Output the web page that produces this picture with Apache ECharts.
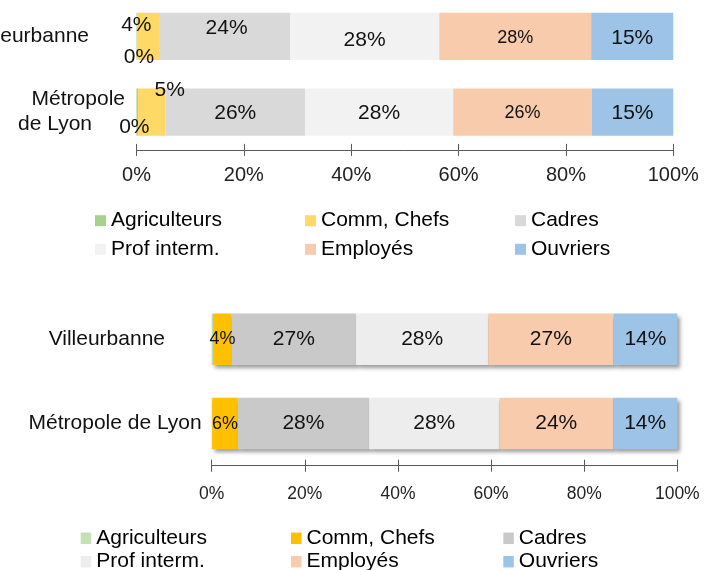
<!DOCTYPE html>
<html>
<head>
<meta charset="utf-8">
<script src="https://cdn.jsdelivr.net/npm/echarts@6/dist/echarts.min.js"></script>
<style>
  html, body { margin: 0; padding: 0; background: #fff; overflow: hidden; }
  #top, #bottom { width: 715px; height: 285px; }
</style>
</head>
<body>
<div id="top"></div>
<div id="bottom"></div>
<script>
const FONT = '"Liberation Sans", Arial, sans-serif'

const CATEGORIES = ['Villeurbanne', 'Métropole de Lyon']
const GROUPS = ['Agriculteurs', 'Comm, Chefs', 'Cadres', 'Prof interm.', 'Employés', 'Ouvriers']

// premier graphique (haut), en %
const agriTop = [0.2, 0.3]
const commTop = [4.0, 5.1]
const cadresTop = [24.4, 26.0]
const profTop = [27.8, 27.6]
const employesTop = [28.3, 25.8]
const ouvriersTop = [15.3, 15.2]

// second graphique (bas), en %
const agriBot = [0.3, 0.1]
const commBot = [4.0, 5.5]
const cadresBot = [26.7, 28.2]
const profBot = [28.4, 28.0]
const employesBot = [26.9, 24.4]
const ouvriersBot = [13.7, 13.8]

const COLORS_TOP = ['#a9d18e', '#ffd966', '#d9d9d9', '#f2f2f2', '#f8cbad', '#9dc3e6']
const COLORS_BOT = ['#c5e0b4', '#ffc000', '#c9c9c9', '#ededed', '#f8cbad', '#9dc3e6']

// étiquettes déplacées à la main dans le graphique du haut [dx, dy] par catégorie
const TOP_LABEL_OFFSET = [
  [[2, 21], [-3, 15]],
  [[-12, -11], [18, -22]],
  [[2, -8], [0, 1]],
  [[0, 4], [0, 1]],
  [[0, 2], [0, 1]],
  [[0, 2], [0, 1]],
]
const TOP_LABEL_SIZE = [21, 21, 21, 21, 18, 21]
const BOT_LABEL_SIZE = [21, 18, 21, 21, 21, 21]

const pct = (p) => Math.round(p.value) + '%'

function xAxes(fontSize, margin) {
  const base = { type: 'value', position: 'bottom', min: 0, max: 100, interval: 20, splitLine: { show: false } }
  return [
    {
      ...base,
      axisLine: { show: true, lineStyle: { color: '#595959', width: 1 } },
      axisTick: { show: true, length: 6, lineStyle: { color: '#595959' } },
      axisLabel: { formatter: '{value}%', fontSize, color: '#222', margin, fontFamily: FONT },
    },
    {
      ...base,
      axisLine: { show: false },
      axisTick: { show: true, inside: true, length: 6, lineStyle: { color: '#595959' } },
      axisLabel: { show: false },
    },
  ]
}

function legends(names, colors, lefts, top, gap, size) {
  const cols = [[0, 3], [1, 4], [2, 5]]
  return cols.map((idx, c) => ({
    orient: 'vertical',
    left: lefts[c],
    top,
    height: 80,
    padding: 0,
    itemGap: gap,
    itemWidth: size[0],
    itemHeight: size[1],
    icon: 'rect',
    selectedMode: false,
    data: idx.map((i) => ({ name: names[i], itemStyle: { color: colors[i] } })),
    textStyle: { fontSize: 21, lineHeight: size[2], color: '#000', fontFamily: FONT },
  }))
}

// ---- graphique du haut ----
const topValues = [agriTop, commTop, cadresTop, profTop, employesTop, ouvriersTop]
const topChart = echarts.init(document.getElementById('top'))
topChart.setOption({
  animation: false,
  textStyle: { fontFamily: FONT },
  grid: { left: 136.5, right: 41.7, top: -1.5, height: 151.4, outerBoundsMode: 'none', containLabel: false },
  xAxis: xAxes(20, 16),
  yAxis: {
    type: 'category',
    data: CATEGORIES,
    inverse: true,
    axisLine: { show: false },
    axisTick: { show: false },
    axisLabel: {
      margin: 11.5,
      lineHeight: 25,
      formatter: (v) => v === 'Villeurbanne' ? '{v|' + v + '}' : '{m|Métropole}\n{d|de Lyon}',
      rich: {
        v: { fontSize: 21, color: '#111', fontFamily: FONT, padding: [0, 36, 0, 0] },
        m: { fontSize: 21, color: '#111', fontFamily: FONT, lineHeight: 25 },
        d: { fontSize: 21, color: '#111', fontFamily: FONT, lineHeight: 25, padding: [0, 33, 0, 0] },
      },
    },
  },
  legend: legends(GROUPS, COLORS_TOP, [95, 305, 515], 208.7, 4.6, [11, 11, 24]),
  series: topValues.map((vals, i) => ({
    name: GROUPS[i],
    type: 'bar',
    stack: 'total',
    barWidth: 47.3,
    itemStyle: { color: COLORS_TOP[i] },
    label: { show: true, position: 'inside', formatter: pct, fontSize: TOP_LABEL_SIZE[i], color: '#111', fontFamily: FONT },
    data: vals.map((v, j) => ({ value: v, label: { offset: TOP_LABEL_OFFSET[i][j] } })),
  })),
})

// ---- graphique du bas ----
const botValues = [agriBot, commBot, cadresBot, profBot, employesBot, ouvriersBot]
const botChart = echarts.init(document.getElementById('bottom'))
botChart.setOption({
  animation: false,
  textStyle: { fontFamily: FONT },
  grid: { left: 211.7, right: 37.7, top: 12.2, height: 168.5, outerBoundsMode: 'none', containLabel: false },
  xAxis: xAxes(17.5, 19),
  yAxis: {
    type: 'category',
    data: CATEGORIES,
    inverse: true,
    axisLine: { show: false },
    axisTick: { show: false },
    axisLabel: {
      margin: 10,
      formatter: (v) => v === 'Villeurbanne' ? '{v|' + v + '}' : '{m|' + v + '}',
      rich: {
        v: { fontSize: 21, color: '#111', fontFamily: FONT, padding: [0, 36.7, 0, 0] },
        m: { fontSize: 21, color: '#111', fontFamily: FONT },
      },
    },
  },
  legend: legends(GROUPS, COLORS_BOT, [80.7, 291, 503.3], 242.3, 1.4, [10.5, 11.5, 22]),
  series: botValues.map((vals, i) => ({
    name: GROUPS[i],
    type: 'bar',
    stack: 'total',
    barWidth: 51.5,
    itemStyle: {
      color: COLORS_BOT[i],
      shadowColor: 'rgba(0,0,0,0.4)',
      shadowBlur: 4,
      shadowOffsetX: 3,
      shadowOffsetY: 3,
    },
    label: { show: i > 0, position: 'inside', formatter: pct, fontSize: BOT_LABEL_SIZE[i], color: '#111', fontFamily: FONT },
    data: vals,
  })),
})
</script>
</body>
</html>
